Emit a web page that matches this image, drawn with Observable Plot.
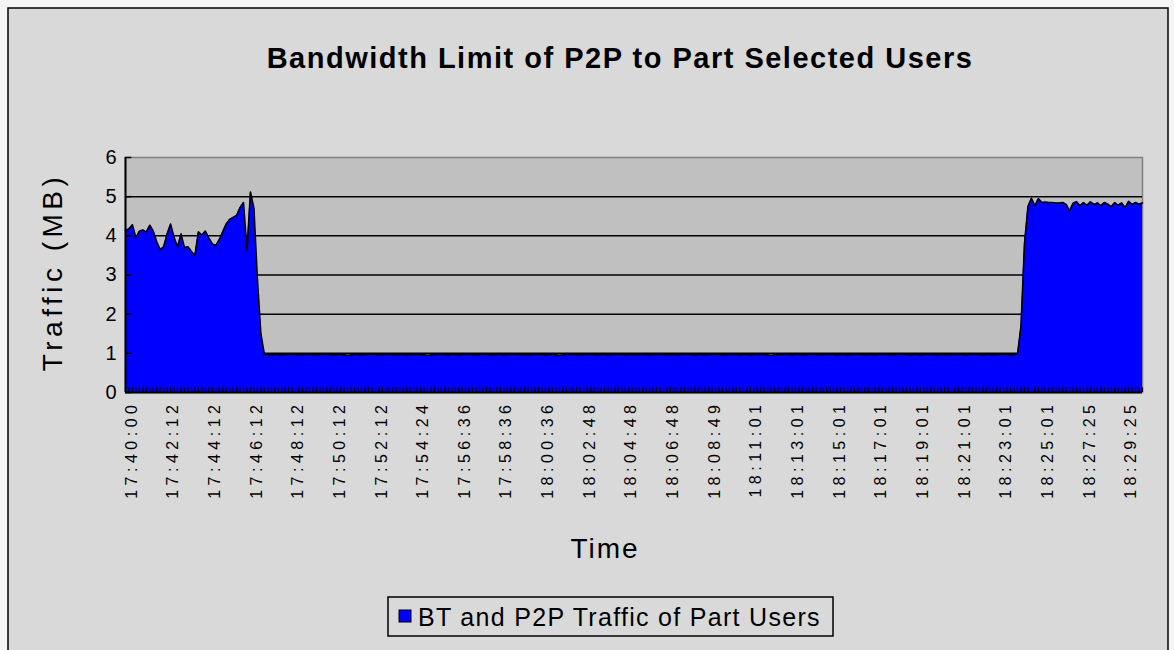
<!DOCTYPE html>
<html><head><meta charset="utf-8">
<script src="https://cdn.jsdelivr.net/npm/d3@7"></script>
<script src="https://cdn.jsdelivr.net/npm/@observablehq/plot@0.6"></script>
<style>body{margin:0;background:#fff}</style>
</head><body><div id="chart"></div>
<script>
const timeLabels = ["17:40:00","17:42:12","17:44:12","17:46:12","17:48:12","17:50:12","17:52:12","17:54:24","17:56:36","17:58:36","18:00:36","18:02:48","18:04:48","18:06:48","18:08:49","18:11:01","18:13:01","18:15:01","18:17:01","18:19:01","18:21:01","18:23:01","18:25:01","18:27:25","18:29:25"];
const samplesPerLabel = 12;
const yTicks = [0,1,2,3,4,5,6];
const gridValues = [1,2,3,4,5];
const seriesName = "BT and P2P Traffic of Part Users";

// Traffic (MB) before the limit
const preLimit = [4.13,4.18,4.28,3.95,4.12,4.15,4.10,4.27,4.12,3.85,3.65,3.72,4.05,4.30,3.96,3.72,4.05,3.70,3.72,3.60,3.50,4.10,4.02,4.12,3.95,3.80,3.75,3.90,4.10,4.30,4.42,4.47,4.52,4.72,4.85,3.62,5.12,4.70,2.90,1.50];
// Traffic (MB) while limited
const limited = [
0.98,0.97,0.96,0.97,0.97,0.96,0.97,0.98,0.97,0.97,0.96,0.97,0.97,0.98,0.97,0.96,0.97,0.97,0.98,0.97,
0.96,0.97,0.97,0.96,0.95,0.96,0.97,0.97,0.96,0.97,0.98,0.97,0.97,0.96,0.97,0.97,0.98,0.97,0.96,0.97,
0.97,0.96,0.97,0.98,0.97,0.97,0.96,0.95,0.96,0.97,0.97,0.98,0.97,0.96,0.97,0.97,0.96,0.97,0.98,0.97,
0.97,0.96,0.97,0.97,0.98,0.97,0.96,0.97,0.97,0.96,0.97,0.98,0.97,0.97,0.96,0.97,0.96,0.97,0.98,0.97,
0.97,0.96,0.97,0.97,0.96,0.95,0.96,0.97,0.98,0.97,0.97,0.96,0.97,0.97,0.98,0.97,0.96,0.97,0.97,0.96,
0.97,0.98,0.97,0.97,0.96,0.97,0.97,0.96,0.97,0.98,0.97,0.96,0.97,0.97,0.98,0.97,0.96,0.97,0.97,0.96,
0.97,0.97,0.98,0.97,0.96,0.97,0.97,0.96,0.97,0.98,0.97,0.97,0.96,0.97,0.97,0.98,0.97,0.96,0.97,0.97,
0.96,0.97,0.98,0.97,0.97,0.96,0.95,0.96,0.97,0.97,0.98,0.97,0.96,0.97,0.97,0.96,0.97,0.98,0.97,0.97,
0.96,0.97,0.97,0.98,0.97,0.96,0.97,0.97,0.96,0.97,0.98,0.97,0.97,0.96,0.97,0.97,0.96,0.97,0.98,0.97,
0.97,0.96,0.97,0.97,0.98,0.97,0.96,0.97,0.97,0.96,0.97,0.97,0.98,0.97,0.96,0.97,0.97,0.96,0.97,0.98,
0.97,0.97,0.96,0.97,0.97,0.98,0.97,0.96,0.97,0.97,0.96,0.97,0.98,0.97,0.97,0.96,0.97,0.98];
// Traffic (MB) after the limit is lifted
const postLimit = [1.70,3.80,4.75,4.96,4.77,4.95,4.85,4.86,4.85,4.85,4.84,4.84,4.85,4.80,4.64,4.83,4.87,4.77,4.85,4.78,4.87,4.80,4.84,4.77,4.85,4.81,4.74,4.85,4.78,4.84,4.72,4.88,4.80,4.85,4.81,4.84];

const traffic = preLimit.concat(limited, postLimit);
const data = traffic.map((v, i) => ({i, v}));
const labelIdx = timeLabels.map((_, k) => k * samplesPerLabel);

const W = 1174, H = 650;
const font = "Arial, 'Liberation Sans', sans-serif";
const plot = Plot.plot({
  width: W, height: H,
  marginLeft: 125, marginRight: 32, marginTop: 157, marginBottom: 258,
  style: {background: "transparent", fontFamily: font, color: "#000"},
  x: {domain: [0, traffic.length - 1]},
  y: {domain: [0, 6]},
  marks: [
    Plot.frame({fill: "#c0c0c0", stroke: "#808080", strokeWidth: 1.5}),
    Plot.ruleY(gridValues, {stroke: "#000", strokeWidth: 1.5}),
    Plot.areaY(data, {x: "i", y: "v", fill: "#0000ff"}),
    Plot.lineY(data, {x: "i", y: "v", stroke: "#000", strokeWidth: 1.6}),
    Plot.ruleX(data, {x: "i", y1: 0, y2: 0.12, stroke: "#000", strokeWidth: 1.2}),
    Plot.ruleY(yTicks, {x1: 0, x2: 1.8, stroke: "#000", strokeWidth: 1.5}),
    Plot.ruleX([0], {stroke: "#000", strokeWidth: 2}),
    Plot.ruleY([0], {stroke: "#000", strokeWidth: 2}),
    Plot.axisY(yTicks, {tickSize: 0, tickPadding: 9, fontSize: 20, label: null}),
    Plot.axisX(labelIdx, {tickSize: 0, tickPadding: 8, tickRotate: -90, dx: 6, fontSize: 16,
      tickFormat: i => timeLabels[i / samplesPerLabel], label: null})
  ]
});

const svg = d3.select(plot);
svg.insert("rect", ":first-child").attr("x", 8).attr("y", 8).attr("width", 1160).attr("height", 700)
  .attr("fill", "#d9d9d9").attr("stroke", "#000").attr("stroke-width", 1.5);
svg.insert("rect", ":first-child").attr("x", 0).attr("y", 0).attr("width", W).attr("height", H).attr("fill", "#f4f4f4");
svg.selectAll('g[aria-label="x-axis tick label"] text').style("letter-spacing", "4.5px").style("font-size", "16px");
svg.selectAll('g[aria-label="y-axis tick label"] text').style("font-size", "20px");

const deco = svg.append("g").attr("font-family", font).attr("fill", "#000");
deco.append("text").attr("x", 620).attr("y", 68).attr("text-anchor", "middle")
  .attr("font-size", 29).attr("font-weight", "bold").style("letter-spacing", "1.5px")
  .text("Bandwidth Limit of P2P to Part Selected Users");
deco.append("text").attr("transform", "translate(62,272) rotate(-90)").attr("text-anchor", "middle")
  .attr("font-size", 28).style("letter-spacing", "4.5px").text("Traffic (MB)");
deco.append("text").attr("x", 605).attr("y", 558).attr("text-anchor", "middle")
  .attr("font-size", 28).style("letter-spacing", "2px").text("Time");
const lg = deco.append("g");
lg.append("rect").attr("x", 388).attr("y", 597).attr("width", 445).attr("height", 39)
  .attr("fill", "none").attr("stroke", "#000").attr("stroke-width", 1.5);
lg.append("rect").attr("x", 399).attr("y", 610).attr("width", 12).attr("height", 12)
  .attr("fill", "#0000ff").attr("stroke", "#000");
lg.append("text").attr("x", 418).attr("y", 626).attr("text-anchor", "start")
  .attr("font-size", 25).style("letter-spacing", "1.3px").text(seriesName);

document.getElementById("chart").appendChild(plot);
</script></body></html>
